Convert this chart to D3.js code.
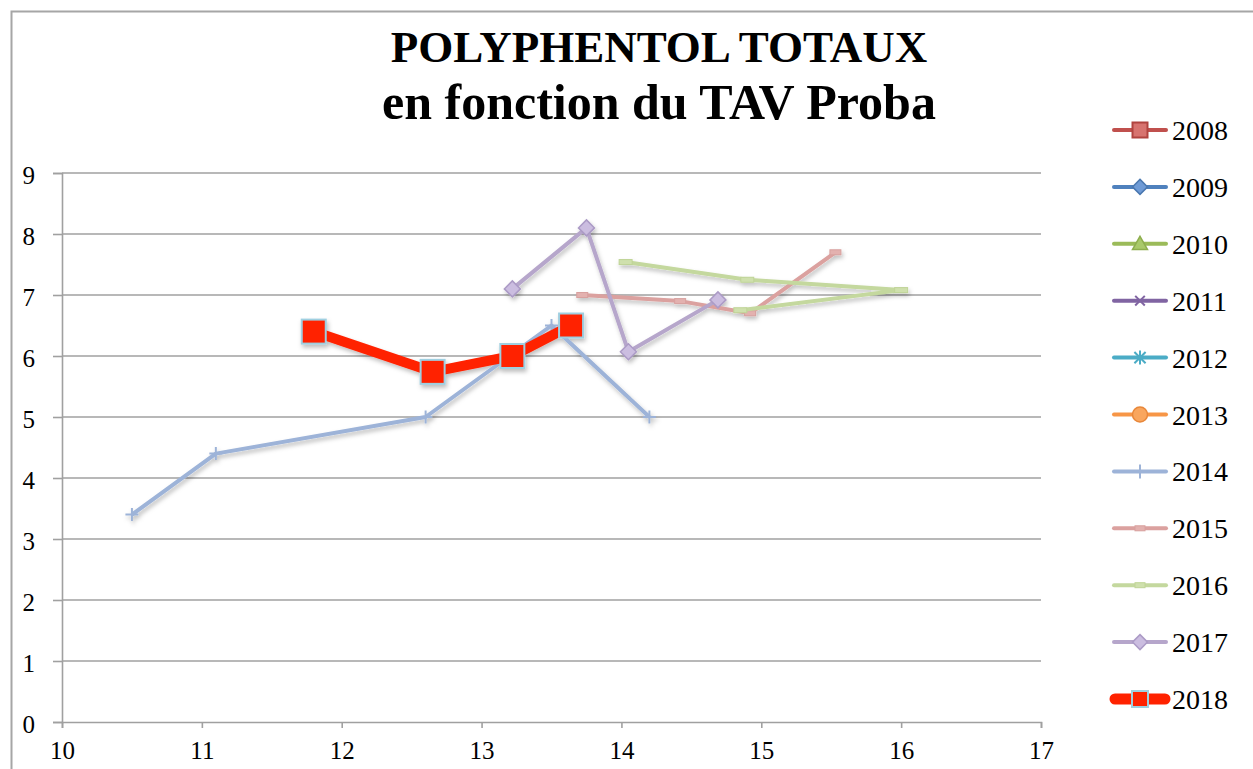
<!DOCTYPE html>
<html>
<head>
<meta charset="utf-8">
<script src="https://cdn.jsdelivr.net/npm/d3@7"></script>
<style>
    body { margin: 0; background: #fff; }
    svg { display: block; }
</style>
</head>
<body>
<div id="chart"></div>
<script>
// Data
const years = ['2008', '2009', '2010', '2011', '2012', '2013', '2014', '2015', '2016', '2017', '2018'];
const xTicks = [10, 11, 12, 13, 14, 15, 16, 17];
const yTicks = [0, 1, 2, 3, 4, 5, 6, 7, 8, 9];

const tav2014 = [10.5, 11.1, 12.6, 13.5, 14.2];
const poly2014 = [3.4, 4.4, 5.0, 6.5, 5.0];
const tav2015 = [13.72, 14.42, 14.92, 15.53];
const poly2015 = [7.0, 6.9, 6.7, 7.7];
const tav2016 = [14.03, 14.9, 16.0, 14.85];
const poly2016 = [7.54, 7.25, 7.08, 6.75];
const tav2017 = [13.22, 13.75, 14.05, 14.69];
const poly2017 = [7.1, 8.1, 6.07, 6.92];
const tav2018 = [11.8, 12.65, 13.22, 13.64];
const poly2018 = [6.4, 5.74, 6.0, 6.5];

const titleLines = ['POLYPHENTOL TOTAUX', 'en fonction du TAV Proba'];

// Series styles (Excel palette)
const styles = {
    '2008': { color: '#c0504d', marker: 'square', fill: '#d7736f', stroke: '#b0433f', width: 4 },
    '2009': { color: '#4f81bd', marker: 'diamond', fill: '#6f9bd6', stroke: '#4a78b0', width: 4 },
    '2010': { color: '#9bbb59', marker: 'triangle', fill: '#a9c96a', stroke: '#8eae4e', width: 4 },
    '2011': { color: '#8064a2', marker: 'x', fill: 'none', stroke: '#8064a2', width: 4 },
    '2012': { color: '#4bacc6', marker: 'star', fill: 'none', stroke: '#4bacc6', width: 4 },
    '2013': { color: '#f79646', marker: 'circle', fill: '#f9a65e', stroke: '#e8873a', width: 4 },
    '2014': { color: '#9db3d8', marker: 'plus', fill: 'none', stroke: '#9db3d8', width: 4 },
    '2015': { color: '#dba19f', marker: 'dash', fill: '#e3b1af', stroke: '#d8a09e', width: 4 },
    '2016': { color: '#c4d89e', marker: 'dash', fill: '#cfe0ad', stroke: '#bfd496', width: 4 },
    '2017': { color: '#b6a6cb', marker: 'diamond', fill: '#cbbde0', stroke: '#ac9bc6', width: 4 },
    '2018': { color: '#ff2200', marker: 'square', fill: '#ff2200', stroke: '#9fcfe0', width: 10 }
};

const seriesData = {
    '2014': d3.zip(tav2014, poly2014),
    '2015': d3.zip(tav2015, poly2015),
    '2016': d3.zip(tav2016, poly2016),
    '2017': d3.zip(tav2017, poly2017),
    '2018': d3.zip(tav2018, poly2018)
};

const width = 1253;
const height = 769;
const margins = { left: 62, right: 212, top: 173, bottom: 47 };
const gridColor = '#a0a0a0';
const serif = '"Liberation Serif", "DejaVu Serif", serif';

const svg = d3.select('#chart')
    .append('svg')
    .attr('width', width)
    .attr('height', height);

const defs = svg.append('defs');
defs.append('filter')
    .attr('id', 'shadow')
    .attr('x', '-20%').attr('y', '-20%')
    .attr('width', '150%').attr('height', '150%')
    .append('feDropShadow')
    .attr('dx', 1.5)
    .attr('dy', 3)
    .attr('stdDeviation', 2)
    .attr('flood-color', '#000')
    .attr('flood-opacity', 0.25);

// Outer frame (extends past the picture)
svg.append('rect')
    .attr('x', 11.5)
    .attr('y', 11.5)
    .attr('width', width + 20)
    .attr('height', height + 20)
    .attr('fill', 'none')
    .attr('stroke', '#a6a6a6')
    .attr('stroke-width', 2);

// Title
svg.append('g')
    .selectAll('text')
    .data(titleLines)
    .enter()
    .append('text')
    .attr('x', 659)
    .attr('y', (d, i) => i === 0 ? 62 : 119)
    .attr('text-anchor', 'middle')
    .style('font-family', serif)
    .style('font-weight', 'bold')
    .style('font-size', (d, i) => i === 0 ? '45px' : '50px')
    .attr('fill', '#000')
    .text(d => d);

// Scales
const xScale = d3.scaleLinear()
    .domain([10, 17])
    .range([margins.left, width - margins.right]);

const yScale = d3.scaleLinear()
    .domain([0, 9])
    .range([height - margins.bottom, margins.top]);

// Horizontal grid
svg.append('g')
    .attr('class', 'grid')
    .selectAll('line')
    .data(yTicks.filter(d => d > 0))
    .enter()
    .append('line')
    .attr('x1', xScale(10))
    .attr('x2', xScale(17))
    .attr('y1', d => yScale(d))
    .attr('y2', d => yScale(d))
    .attr('stroke', gridColor)
    .attr('stroke-width', 1.6);

// Axes
svg.append('g')
    .attr('class', 'y-axis')
    .attr('transform', `translate(${xScale(10)},0)`)
    .call(d3.axisLeft(yScale).tickValues(yTicks).tickSize(9).tickPadding(18).tickFormat(d3.format('d')))
    .attr('font-family', serif)
    .attr('font-size', 25)
    .call(g => g.selectAll('path, line').attr('stroke', gridColor).attr('stroke-width', 1.6))
    .call(g => g.selectAll('text')
        .attr('fill', '#000')
        .attr('dy', '0.4em')
        .style('font-family', serif)
        .style('font-size', '25px'));

svg.append('g')
    .attr('class', 'x-axis')
    .attr('transform', `translate(0,${yScale(0)})`)
    .call(d3.axisBottom(xScale).tickValues(xTicks).tickSize(6).tickPadding(13).tickFormat(d3.format('d')))
    .attr('font-family', serif)
    .attr('font-size', 25)
    .call(g => g.selectAll('path, line').attr('stroke', gridColor).attr('stroke-width', 1.6))
    .call(g => g.selectAll('text')
        .attr('fill', '#000')
        .style('font-family', serif)
        .style('font-size', '25px'));

// Marker drawing
function drawMarker(g, type, style, size) {
    const s = size;
    if (type === 'square') {
        g.append('rect')
            .attr('x', -s / 2).attr('y', -s / 2)
            .attr('width', s).attr('height', s)
            .attr('fill', style.fill)
            .attr('stroke', style.stroke)
            .attr('stroke-width', 2);
    } else if (type === 'diamond') {
        g.append('path')
            .attr('d', `M0,${-s / 2}L${s / 2},0L0,${s / 2}L${-s / 2},0Z`)
            .attr('fill', style.fill)
            .attr('stroke', style.stroke)
            .attr('stroke-width', 1.5);
    } else if (type === 'triangle') {
        g.append('path')
            .attr('d', `M0,${-s / 2}L${s / 2},${s / 2.6}L${-s / 2},${s / 2.6}Z`)
            .attr('fill', style.fill)
            .attr('stroke', style.stroke)
            .attr('stroke-width', 1.5);
    } else if (type === 'circle') {
        g.append('circle')
            .attr('r', s / 2)
            .attr('fill', style.fill)
            .attr('stroke', style.stroke)
            .attr('stroke-width', 1.5);
    } else if (type === 'x' || type === 'plus' || type === 'star') {
        const h = s / 2;
        let d = '';
        if (type === 'x' || type === 'star') d += `M${-h * 0.8},${-h * 0.8}L${h * 0.8},${h * 0.8}M${h * 0.8},${-h * 0.8}L${-h * 0.8},${h * 0.8}`;
        if (type === 'plus') d += `M0,${-h}L0,${h}M${-h},0L${h},0`;
        if (type === 'star') d += `M0,${-h}L0,${h}`;
        g.append('path')
            .attr('d', d)
            .attr('fill', 'none')
            .attr('stroke', style.stroke)
            .attr('stroke-width', 2);
    } else if (type === 'dash') {
        g.append('rect')
            .attr('x', -s / 2).attr('y', -2.5)
            .attr('width', s).attr('height', 5)
            .attr('fill', style.fill)
            .attr('stroke', style.stroke)
            .attr('stroke-width', 1);
    }
}

const markerSize = { '2014': 13, '2015': 11, '2016': 13, '2017': 16, '2018': 24 };

// Series
const line = d3.line()
    .x(d => xScale(d[0]))
    .y(d => yScale(d[1]));

const plot = svg.append('g')
    .attr('class', 'series')
    .attr('filter', 'url(#shadow)');

Object.keys(seriesData).forEach(year => {
    const st = styles[year];
    const data = seriesData[year];
    const g = plot.append('g');

    g.append('path')
        .datum(data)
        .attr('fill', 'none')
        .attr('stroke', st.color)
        .attr('stroke-width', st.width)
        .attr('stroke-linejoin', 'round')
        .attr('d', line);

    g.selectAll('g.marker')
        .data(data)
        .enter()
        .append('g')
        .attr('class', 'marker')
        .attr('transform', d => `translate(${xScale(d[0])},${yScale(d[1])})`)
        .each(function() {
            drawMarker(d3.select(this), st.marker, st, markerSize[year]);
        });
});

// Legend
const legend = svg.append('g')
    .attr('class', 'legend');

const legendItems = legend.selectAll('g')
    .data(years)
    .enter()
    .append('g')
    .attr('transform', (d, i) => `translate(1140,${130 + i * 56.9})`);

legendItems.each(function(year) {
    const g = d3.select(this);
    const st = styles[year];
    const thick = year === '2018';
    g.append('line')
        .attr('x1', thick ? -25 : -26)
        .attr('x2', thick ? 25 : 26)
        .attr('stroke', st.color)
        .attr('stroke-width', thick ? 11 : 4)
        .attr('stroke-linecap', 'round');
    const legendSize = { square: 15, diamond: 15, triangle: 15, circle: 15, x: 12, star: 14, plus: 14, dash: 10 }[st.marker];
    drawMarker(g, st.marker, st, thick ? 16 : legendSize);
    g.append('text')
        .attr('x', 32)
        .attr('dy', '0.36em')
        .style('font-family', serif)
        .style('font-size', '28px')
        .attr('fill', '#000')
        .text(year);
});
</script>
</body>
</html>
